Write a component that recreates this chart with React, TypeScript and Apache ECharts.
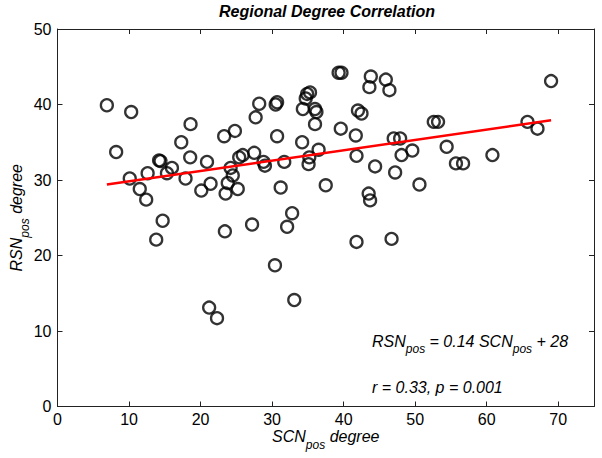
import React, { useEffect, useRef } from 'react';
import * as echarts from 'echarts';

const scnDegree = [
  6.9, 8.2, 10.1, 10.3, 11.5, 12.4, 12.6, 13.8, 14.2, 14.4,
  14.7, 15.3, 16.0, 17.3, 17.9, 18.55, 18.6, 20.1, 20.9, 21.2,
  21.4, 22.3, 23.3, 23.4, 23.5, 23.8, 24.2, 24.5, 24.8, 25.2,
  25.4, 25.9, 27.2, 27.5, 27.7, 28.2, 28.8, 29.0, 30.4, 30.5,
  30.7, 30.7, 31.2, 31.7, 32.1, 32.8, 33.1, 34.2, 34.3, 34.7,
  34.9, 35.3, 35.1, 35.2, 36.0, 36.2, 36.0, 36.5, 37.5, 39.3,
  39.7, 39.6, 41.7, 41.8, 41.8, 42.0, 42.5, 43.5, 43.7, 43.6,
  43.8, 44.4, 45.9, 46.4, 46.7, 47.0, 47.2, 47.9, 48.1, 49.6,
  50.6, 52.6, 53.2, 54.4, 55.7, 56.7, 60.8, 65.7, 67.1, 69.0,
];
const rsnDegree = [
  39.9, 33.7, 30.2, 39.0, 28.8, 27.4, 30.9, 22.1, 32.6, 32.5,
  24.6, 30.9, 31.6, 35.0, 30.2, 33.0, 37.4, 28.6, 32.4, 13.1,
  29.5, 11.7, 35.8, 23.2, 28.2, 29.6, 31.6, 30.6, 36.5, 28.8,
  33.0, 33.3, 24.1, 33.6, 38.3, 40.1, 32.4, 31.9, 18.7, 40.0,
  40.3, 35.8, 29.0, 32.4, 23.8, 25.6, 14.1, 35.0, 39.4, 40.8,
  41.4, 41.6, 32.1, 33.0, 39.4, 39.0, 37.4, 34.0, 29.3, 44.2,
  44.2, 36.8, 35.9, 33.2, 21.8, 39.2, 38.8, 28.2, 27.3, 42.3,
  43.7, 31.8, 43.3, 41.9, 22.2, 35.5, 31.0, 35.5, 33.3, 33.9,
  29.4, 37.7, 37.7, 34.4, 32.2, 32.2, 33.3, 37.7, 36.8, 43.1,
];
// regression line endpoints
const fitX = [6.9, 69.0];
const fitY = [29.4, 37.9];

const titleText = 'Regional Degree Correlation';
const equationText = '{a|RSN}{s|pos}{a| = 0.14 SCN}{s|pos}{a| + 28}';
const statsText = 'r = 0.33, p = 0.001';

const FONT = '"Liberation Sans", Arial, Helvetica, sans-serif';

const richSub = {
  a: { fontSize: 16, fontStyle: 'italic', fontFamily: FONT, color: '#000', lineHeight: 16, verticalAlign: 'top' },
  s: { fontSize: 12, fontStyle: 'italic', fontFamily: FONT, color: '#000', lineHeight: 14, verticalAlign: 'top', padding: [10, 0, 0, 0] },
};

export default function App() {
  const ref = useRef<HTMLDivElement>(null);
  useEffect(() => {
    if (!ref.current) return;
    const chart = echarts.init(ref.current, undefined, { renderer: 'svg' });
    const points = scnDegree.map((x, i) => [x, rsnDegree[i]]);
    const axisCommon = {
      type: 'value' as const,
      axisLine: { show: true, onZero: false, lineStyle: { color: '#222', width: 1 } },
      axisTick: { show: true, inside: true, length: 5, lineStyle: { color: '#222', width: 1 } },
      splitLine: { show: false },
    };
    chart.setOption({
      animation: false,
      backgroundColor: '#fff',
      title: {
        text: titleText,
        left: 327,
        top: 3,
        padding: 0,
        textAlign: 'center',
        textStyle: { fontSize: 16, fontWeight: 'bold', fontStyle: 'italic', fontFamily: FONT, color: '#000' },
      },
      grid: { left: 57.5, right: 8, top: 29, bottom: 51.5, outerBoundsMode: 'none', containLabel: false },
      xAxis: [
        {
          ...axisCommon,
          position: 'bottom',
          min: 0,
          max: 75,
          interval: 10,
          axisLabel: { show: true, showMaxLabel: false, margin: 5, fontSize: 16, lineHeight: 16, fontFamily: FONT, color: '#000' },
          name: '{a|SCN}{s|pos}{a| degree}',
          nameLocation: 'middle',
          nameGap: 22,
          nameMoveOverlap: false,
          nameTextStyle: { rich: richSub },
        },
        {
          ...axisCommon,
          position: 'top',
          min: 0,
          max: 75,
          interval: 10,
          axisLabel: { show: false },
        },
      ],
      yAxis: [
        {
          ...axisCommon,
          position: 'left',
          min: 0,
          max: 50,
          interval: 10,
          axisLabel: { show: true, margin: 6, fontSize: 16, fontFamily: FONT, color: '#000' },
          name: '{a|RSN}{s|pos}{a| degree}',
          nameLocation: 'middle',
          nameGap: 33,
          nameMoveOverlap: false,
          nameTextStyle: { rich: richSub },
        },
        {
          ...axisCommon,
          position: 'right',
          min: 0,
          max: 50,
          interval: 10,
          axisLabel: { show: false },
        },
      ],
      series: [
        {
          type: 'line',
          data: fitX.map((x, i) => [x, fitY[i]]),
          showSymbol: false,
          symbol: 'none',
          lineStyle: { color: '#ff0000', width: 2.5 },
          z: 3,
        },
        {
          type: 'scatter',
          data: points,
          symbol: 'circle',
          symbolSize: 12,
          itemStyle: { color: 'rgba(0,0,0,0)', borderColor: '#000', borderWidth: 2.3 },
          z: 2,
        },
      ],
      graphic: [
        {
          type: 'text',
          left: 372,
          top: 333,
          style: { text: equationText, rich: richSub },
        },
        {
          type: 'text',
          left: 372,
          top: 379,
          style: { text: statsText, fontSize: 16, fontStyle: 'italic', fontFamily: FONT, fill: '#000' },
        },
      ],
    });
    return () => chart.dispose();
  }, []);
  return <div ref={ref} style={{ position: 'fixed', left: 0, top: 0, width: 602, height: 458, background: '#fff' }} />;
}
